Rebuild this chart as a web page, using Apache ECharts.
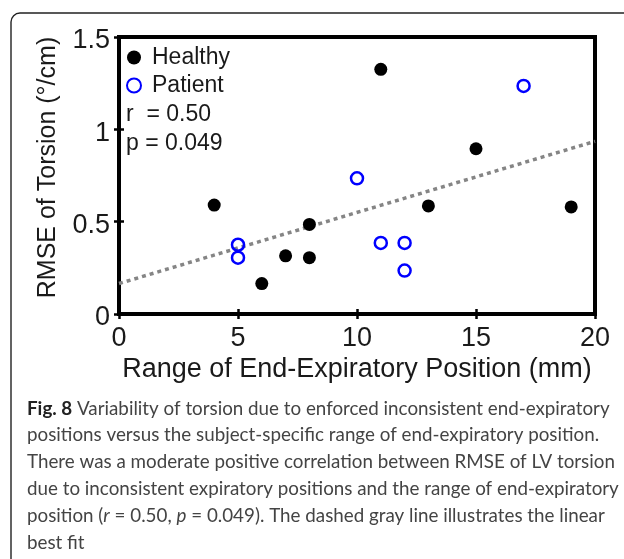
<!DOCTYPE html>
<html>
<head>
<meta charset="utf-8">
<script src="https://cdn.jsdelivr.net/npm/echarts@6/dist/echarts.min.js"></script>
<style>
html,body{margin:0;padding:0;background:#fff;}
#c{width:624px;height:559px;}
</style>
</head>
<body>
<div id="c"></div>
<script>
// Data
const healthyX = [4, 6, 7, 8, 8, 11, 13, 15, 19];
const healthyY = [0.59, 0.165, 0.315, 0.305, 0.485, 1.325, 0.585, 0.895, 0.58];
const patientX = [5, 5, 10, 11, 12, 12, 17];
const patientY = [0.375, 0.305, 0.735, 0.385, 0.385, 0.235, 1.235];
const fitX = [0, 20];
const fitY = [0.165, 0.935];
const xTicks = [0, 5, 10, 15, 20];
const yTicks = ['0', '0.5', '1', '1.5'];
const seriesNames = ['Healthy', 'Patient'];
const statsLines = ['r  = 0.50', 'p = 0.049'];
const captionLines = [
  '{b|Fig. 8} Variability of torsion due to enforced inconsistent end-expiratory',
  'positions versus the subject-specific range of end-expiratory position.',
  'There was a moderate positive correlation between RMSE of LV torsion',
  'due to inconsistent expiratory positions and the range of end-expiratory',
  'position ({i|r} = 0.50, {i|p} = 0.049). The dashed gray line illustrates the linear',
  'best fit'
];

const zip = (xs, ys) => xs.map((x, i) => [x, ys[i]]);
const axisFont = 'Liberation Sans, Arial, Helvetica, sans-serif';
const capFont = 'Lato, Open Sans, sans-serif';
const capSize = 18.8;

const chart = echarts.init(document.getElementById('c'), null, {renderer: 'canvas'});

const graphics = [
  {type: 'rect', shape: {x: 11, y: 13, width: 720, height: 700, r: 9},
   style: {fill: 'none', stroke: '#222', lineWidth: 1.4}, silent: true, z: 0}
];
statsLines.forEach((t, i) => {
  graphics.push({type: 'text', left: 126, top: 103 + i * 29.5, z: 10,
    style: {text: t, font: '23px ' + axisFont, fill: '#1a1a1a'}});
});
captionLines.forEach((t, i) => {
  graphics.push({type: 'text', left: 27, top: 399 + i * 26.9, z: 10,
    style: {
      text: t, fontFamily: capFont, fontSize: capSize, fill: '#444',
      rich: {
        b: {fontFamily: capFont, fontSize: capSize, fontWeight: 'bold', fill: '#222'},
        i: {fontFamily: capFont, fontSize: capSize, fontStyle: 'italic', fill: '#444'}
      }
    }});
});

const option = {
  animation: false,
  backgroundColor: '#fff',
  grid: {left: 119, right: 29, top: 37, bottom: 245, show: true,
         borderColor: '#000', borderWidth: 4, backgroundColor: 'transparent'},
  legend: {
    data: seriesNames, orient: 'vertical', left: 126, top: 46, padding: 0,
    itemWidth: 14, itemHeight: 14, itemGap: 5,
    textStyle: {fontFamily: axisFont, fontSize: 23, color: '#1a1a1a', lineHeight: 22, padding: [0, 0, 0, 6]}
  },
  xAxis: [
    {type: 'value', min: xTicks[0], max: xTicks[xTicks.length - 1], interval: 5,
     name: 'Range of End-Expiratory Position (mm)', nameLocation: 'middle', nameGap: 42,
     nameTextStyle: {fontFamily: axisFont, fontSize: 27, color: '#1a1a1a'},
     axisLine: {show: false}, splitLine: {show: false},
     axisTick: {show: true, inside: true, length: 5, lineStyle: {color: '#000', width: 2.5}},
     axisLabel: {fontFamily: axisFont, fontSize: 27, color: '#1a1a1a', margin: 11}},
    {type: 'value', position: 'top', min: xTicks[0], max: xTicks[xTicks.length - 1], interval: 5,
     axisLine: {show: false}, splitLine: {show: false}, axisLabel: {show: false},
     axisTick: {show: true, inside: true, length: 5, lineStyle: {color: '#000', width: 2.5}}}
  ],
  yAxis: [
    {type: 'value', min: 0, max: 1.5, interval: 0.5,
     name: 'RMSE of Torsion (°/cm)', nameLocation: 'middle', nameGap: 58,
     nameTextStyle: {fontFamily: axisFont, fontSize: 25, color: '#1a1a1a', padding: [0, 0, 0, 16]},
     axisLine: {show: false}, splitLine: {show: false},
     axisTick: {show: true, inside: true, length: 5, lineStyle: {color: '#000', width: 2.5}},
     axisLabel: {color: '#1a1a1a', margin: 9,
                 formatter: (v) => '{t|' + yTicks[Math.round(v / 0.5)] + '}',
                 rich: {t: {fontFamily: axisFont, fontSize: 27, color: '#1a1a1a', padding: [8, 0, 0, 0]}}}},
    {type: 'value', position: 'right', min: 0, max: 1.5, interval: 0.5,
     axisLine: {show: false}, splitLine: {show: false}, axisLabel: {show: false},
     axisTick: {show: true, inside: true, length: 5, lineStyle: {color: '#000', width: 2.5}}}
  ],
  series: [
    {name: 'fit', type: 'line', data: zip(fitX, fitY), symbol: 'none', z: 2,
     lineStyle: {color: '#858585', width: 3.5, type: [4, 4]}, silent: true},
    {name: seriesNames[0], type: 'scatter', data: zip(healthyX, healthyY), z: 3,
     symbol: 'circle', symbolSize: 13, itemStyle: {color: '#000', opacity: 1}},
    {name: seriesNames[1], type: 'scatter', data: zip(patientX, patientY), z: 3,
     symbol: 'circle', symbolSize: 12,
     itemStyle: {color: 'rgba(255,255,255,0)', borderColor: '#0000ff', borderWidth: 2.5, opacity: 1}}
  ],
  graphic: graphics
};
chart.setOption(option);
</script>
</body>
</html>
